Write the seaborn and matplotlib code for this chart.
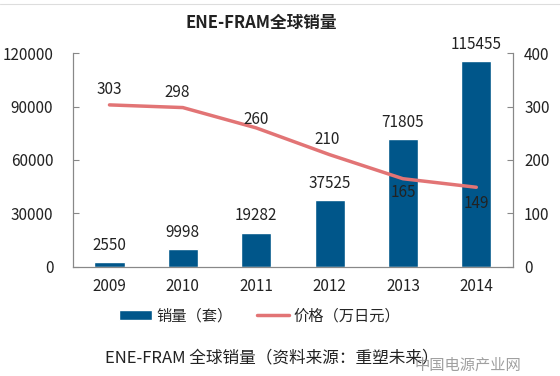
import matplotlib
matplotlib.use("Agg")
import matplotlib.pyplot as plt
import seaborn as sns
import pandas as pd

years = ["2009", "2010", "2011", "2012", "2013", "2014"]
sales = [2550, 9998, 19282, 37525, 71805, 115455]
price = [303, 298, 260, 210, 165, 149]
left_ticks = [0, 30000, 60000, 90000, 120000]
right_ticks = [0, 100, 200, 300, 400]

sns.set_style("white")
plt.rcParams['font.family'] = ['Noto Sans CJK SC', 'DejaVu Sans']

bar_color = "#00568A"
line_color = "#E27475"
fs = 11

df = pd.DataFrame({"year": years, "sales": sales, "price": price})

fig = plt.figure(figsize=(5.6, 3.76), dpi=100)
ax = fig.add_axes([0.130, 0.290, 0.786, 0.569])
ax2 = ax.twinx()

sns.barplot(data=df, x="year", y="sales", color=bar_color, width=0.41,
            saturation=1, ax=ax, label="销量（套）")
ax.set_xlim(-0.5, 5.5)
ax.set_ylim(0, 120000)
ax.set_yticks(left_ticks)
ax.set_xlabel("")
ax.set_ylabel("")
ax.tick_params(axis="y", direction="in", length=4, labelsize=fs, colors="#222222", pad=14)
ax.tick_params(axis="x", length=0, labelsize=fs, colors="#222222", pad=8)
for i, v in enumerate(sales):
    ax.annotate(str(v), (i, v), xytext=(0, 6), textcoords="offset points",
                ha="center", va="bottom", fontsize=fs, color="#222222")

sns.lineplot(x=list(range(len(years))), y=price, color=line_color, linewidth=2.5,
             ax=ax2, label="价格（万日元）")
ax2.set_ylim(0, 400)
ax2.set_yticks(right_ticks)
ax2.tick_params(axis="y", direction="in", length=4, labelsize=fs, colors="#222222", pad=8)
offsets = [(0, 5), (-4, 5), (0, 0), (-2, 5), (0, -16), (0, -18)]
for i, v in enumerate(price):
    ax2.annotate(str(v), (i, v), xytext=offsets[i], textcoords="offset points",
                 ha="center", va="bottom", fontsize=fs, color="#222222")

for a in (ax, ax2):
    a.spines["top"].set_visible(False)
    for s in ("left", "right", "bottom"):
        a.spines[s].set_color("#888888")
        a.spines[s].set_linewidth(0.8)
    a.tick_params(axis="y", color="#888888")

h1, l1 = ax.get_legend_handles_labels()
h2, l2 = ax2.get_legend_handles_labels()
for a in (ax, ax2):
    if a.get_legend():
        a.get_legend().remove()
fig.legend(h1 + h2, l1 + l2, loc="center", bbox_to_anchor=(0.464, 0.16), ncol=2,
           frameon=False, fontsize=11, handlelength=2.1, handleheight=0.6,
           columnspacing=1.6, handletextpad=0.3)

fig.text(0.466, 0.94, "ENE-FRAM全球销量", ha="center", va="center", fontsize=12,
         fontweight="bold", color="#222222")
fig.text(0.486, 0.048, "ENE-FRAM 全球销量（资料来源：重塑未来）", ha="center", va="center",
         fontsize=12, color="#222222")
fig.text(0.93, 0.03, "中国电源产业网", ha="right", va="center", fontsize=11,
         color="#888888", alpha=0.8)
fig.add_artist(plt.Line2D([0, 1], [0.99, 0.99], color="#dddddd", linewidth=0.8))

fig.savefig("out.png", dpi=100)
